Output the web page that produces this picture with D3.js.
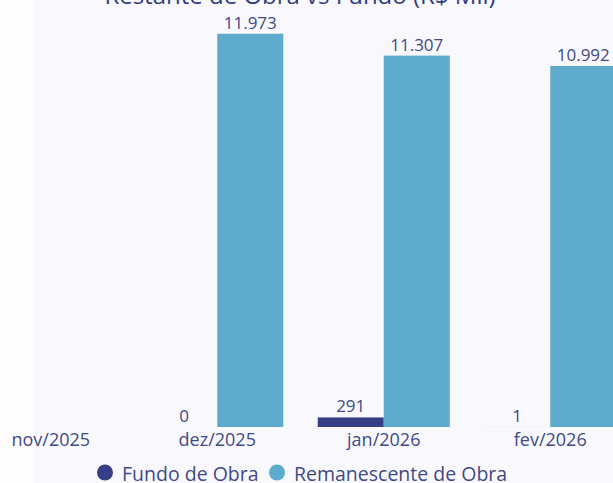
<!DOCTYPE html>
<html lang="pt">
<head>
    <meta charset="UTF-8">
    <title>Restante de Obra vs Fundo</title>
    <script src="https://d3js.org/d3.v7.min.js"></script>
    <style>
        html, body { margin: 0; padding: 0; background: #f9f9fd; }
        svg { display: block; font-family: "Open Sans", "Noto Sans", sans-serif; }
    </style>
</head>
<body>
    <script>
    // dados
    var categories = ["nov/2025", "dez/2025", "jan/2026", "fev/2026"];
    var fundoObra = [null, 0, 291, 1];
    var remanescente = [null, 11973, 11307, 10992];
    var seriesNames = ["Fundo de Obra", "Remanescente de Obra"];
    var seriesColors = ["#363f85", "#5dabcd"];

    var width = 613;
    var height = 483;
    var baseY = 427;

    var svg = d3.select("body").append("svg")
        .attr("width", width)
        .attr("height", height);

    svg.append("rect").attr("width", width).attr("height", height).attr("fill", "#f9f9fd");
    svg.append("rect").attr("width", 33).attr("height", height).attr("fill", "#fdfdfe");

    // titulo (cortado no topo)
    svg.append("text")
        .attr("x", 300)
        .attr("y", 4)
        .attr("text-anchor", "middle")
        .attr("fill", "#2f3d80")
        .attr("font-size", "24px")
        .text("Restante de Obra vs Fundo (R$ Mil)");

    // escalas
    var x = d3.scaleBand()
        .domain(categories)
        .range([-32.5, 633.5])
        .paddingInner(0.207)
        .paddingOuter(0.1035);

    var x1 = d3.scaleBand()
        .domain([0, 1])
        .range([0, x.bandwidth()]);

    var y = d3.scaleLinear()
        .domain([0, 13000])
        .range([baseY, 0]);

    var br = d3.formatLocale({ decimal: ",", thousands: ".", grouping: [3], currency: ["R$", ""] });
    var fmt = br.format(",.0f");

    var rows = [];
    categories.forEach(function(c, i) {
        [fundoObra[i], remanescente[i]].forEach(function(v, s) {
            if (v != null) rows.push({ cat: c, s: s, v: v });
        });
    });

    var g = svg.append("g");

    g.selectAll(".bar")
        .data(rows)
        .enter()
        .append("rect")
        .attr("class", "bar")
        .attr("x", function(d) { return x(d.cat) + x1(d.s); })
        .attr("width", x1.bandwidth())
        .attr("y", function(d) { return y(d.v); })
        .attr("height", function(d) { return baseY - y(d.v); })
        .attr("fill", function(d) { return seriesColors[d.s]; });

    g.selectAll(".lbl")
        .data(rows)
        .enter()
        .append("text")
        .attr("class", "lbl")
        .attr("x", function(d) { return x(d.cat) + x1(d.s) + x1.bandwidth() / 2; })
        .attr("y", function(d) { return y(d.v) - 5; })
        .attr("text-anchor", "middle")
        .attr("fill", "#3f4a85")
        .attr("font-size", "17px")
        .text(function(d) { return fmt(d.v); });

    // eixo x
    var xAxis = svg.append("g")
        .attr("transform", "translate(0," + baseY + ")")
        .call(d3.axisBottom(x).tickSize(0).tickPadding(6));
    xAxis.select(".domain").remove();
    xAxis.selectAll("text")
        .attr("fill", "#3f4a85")
        .attr("font-size", "18px")
        .attr("font-family", "Open Sans, sans-serif");

    // legenda
    var legend = svg.append("g").attr("transform", "translate(0,472.5)");
    var legX = [105, 277];
    seriesNames.forEach(function(n, i) {
        legend.append("circle")
            .attr("cx", legX[i])
            .attr("cy", 0)
            .attr("r", 8)
            .attr("fill", seriesColors[i]);
        legend.append("text")
            .attr("x", legX[i] + 17)
            .attr("y", 8.5)
            .attr("fill", "#3f4a85")
            .attr("font-size", "19.5px")
            .text(n);
    });
    </script>
</body>
</html>
